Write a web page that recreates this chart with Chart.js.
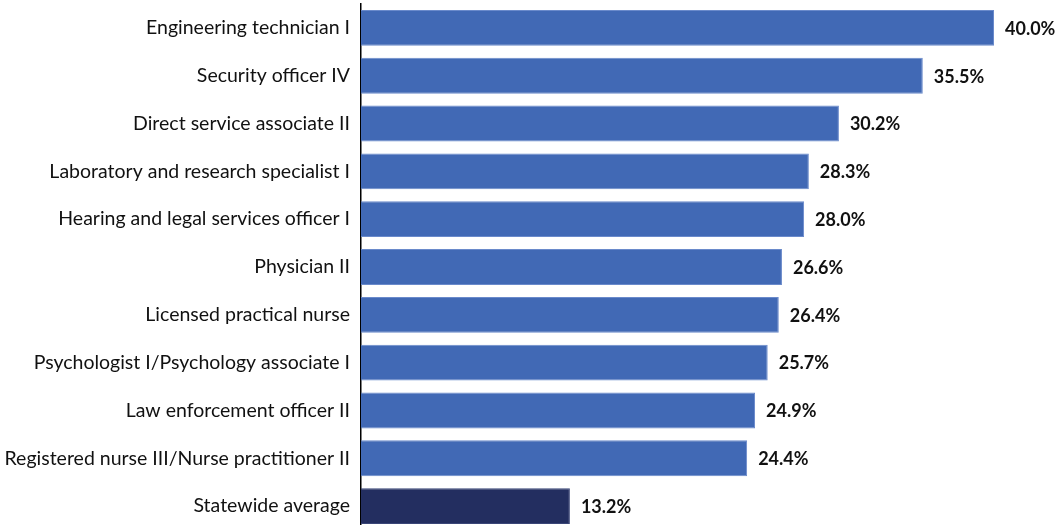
<!DOCTYPE html>
<html>
<head>
<meta charset="utf-8">
<script src="https://cdn.jsdelivr.net/npm/chart.js@4"></script>
<style>
  html, body { margin: 0; padding: 0; background: #fff; overflow: hidden; }
  #wrap { width: 1060px; height: 531px; position: relative; }
</style>
</head>
<body>
<div id="wrap"><canvas id="my-canvas"></canvas></div>
<script>
const categories = [
    "Engineering technician I",
    "Security officer IV",
    "Direct service associate II",
    "Laboratory and research specialist I",
    "Hearing and legal services officer I",
    "Physician II",
    "Licensed practical nurse",
    "Psychologist I/Psychology associate I",
    "Law enforcement officer II",
    "Registered nurse III/Nurse practitioner II",
    "Statewide average"
]
const rates = [40.0, 35.5, 30.2, 28.3, 28.0, 26.6, 26.4, 25.7, 24.9, 24.4, 13.2]

const blue = '#4169b5'
const navy = '#232e60'

// writes the percentage just past the end of each bar
const valueLabels = {
    id: 'valueLabels',
    afterDatasetsDraw(chart) {
        const ctx = chart.ctx
        const meta = chart.getDatasetMeta(0)
        ctx.save()
        ctx.font = 'bold 18px Lato'
        ctx.fillStyle = '#111'
        ctx.textAlign = 'left'
        ctx.textBaseline = 'middle'
        meta.data.forEach((bar, i) => {
            ctx.fillText(rates[i].toFixed(1) + '%', bar.x + 11, bar.y + 1)
        })
        ctx.restore()
    }
}

window.onload = () => {
    const ctx = document.querySelector("#my-canvas").getContext('2d')

    new Chart(ctx, {
        type: 'bar',
        data: {
            labels: categories,
            datasets: [{
                data: rates,
                backgroundColor: rates.map((v, i) => i === rates.length - 1 ? navy : blue),
                borderColor: rates.map((v, i) => i === rates.length - 1 ? '#3a4677' : '#6a8acb'),
                borderWidth: 1,
                borderSkipped: 'left',
                categoryPercentage: 1,
                barPercentage: 0.75
            }]
        },
        plugins: [valueLabels],
        options: {
            indexAxis: 'y',
            responsive: true,
            maintainAspectRatio: false,
            animation: false,
            layout: { padding: { top: 4, right: 66, bottom: 1, left: 0 } },
            plugins: {
                legend: { display: false },
                tooltip: { enabled: false }
            },
            scales: {
                x: {
                    display: false,
                    min: 0,
                    max: 40
                },
                y: {
                    afterFit: (scale) => {
                        scale.width = 361
                        scale.paddingTop = 0
                        scale.paddingBottom = 0
                    },
                    grid: { display: false, drawTicks: false },
                    border: { display: true, color: '#000', width: 1.5 },
                    ticks: {
                        padding: 11,
                        color: '#111',
                        font: { family: 'Lato', size: 19.5 }
                    }
                }
            }
        }
    })
}
</script>
</body>
</html>
